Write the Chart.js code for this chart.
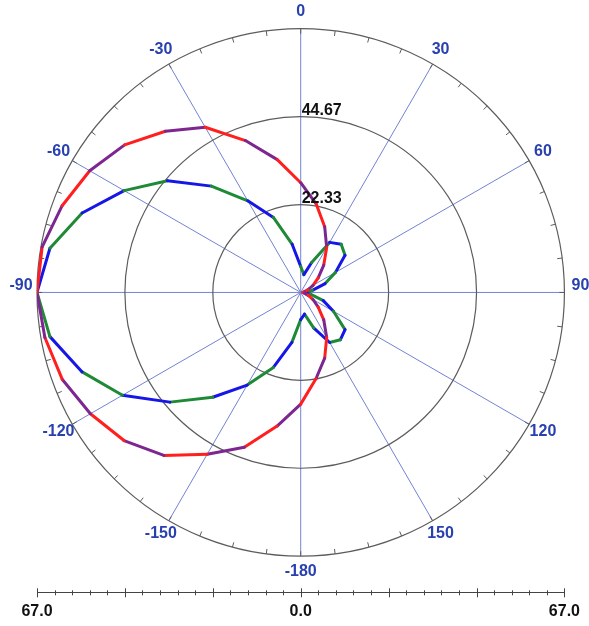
<!DOCTYPE html>
<html>
<head>
<meta charset="utf-8">
<script src="https://cdn.jsdelivr.net/npm/chart.js@4.4.0/dist/chart.umd.min.js"></script>
<style>
  html, body { margin: 0; padding: 0; background: #fff; }
  canvas { display: block; }
</style>
</head>
<body>
<canvas id="pattern" width="589" height="626"></canvas>
<script>
// Pattern sampled every 10 degrees, 0 at top, clockwise positive
const angles = [-180, -170, -160, -150, -140, -130, -120, -110, -100, -90,
                -80, -70, -60, -50, -40, -30, -20, -10, 0,
                10, 20, 30, 40, 50, 60, 70, 80, 90,
                100, 110, 120, 130, 140, 150, 160, 170, 180];

// outer trace (red / purple)
const outerR = [28.4, 34.5, 41.9, 47.5, 54.1, 58.6, 61.7, 64.5, 66.0, 67.0,
                66.7, 64.5, 61.9, 58.4, 53.5, 48.5, 41.1, 34.3, 27.9,
                22.8, 17.8, 13.2, 9.1, 5.8, 3.6, 2.0, 1.0, 0.5,
                1.0, 2.0, 3.6, 5.8, 9.1, 13.2, 17.8, 22.3, 28.4];

// inner trace (blue / green)
const innerR = [6.9, 12.9, 20.3, 27.2, 34.8, 43.4, 52.3, 59.1, 64.7, 67.0,
                64.7, 59.1, 51.8, 44.2, 35.3, 26.9, 20.3, 12.4, 6.6,
                4.6, 8.1, 14.7, 16.0, 14.7, 10.2, 6.6, 3.0, 0.8,
                2.5, 6.1, 9.6, 14.7, 15.7, 14.7, 9.6, 5.6, 6.9];

// rings and spokes
const ringValues = [22.33, 44.67, 67];
const ringLabels = ["22.33", "44.67", ""];
const spokeAngles = [0, 30, 60, 90, 120, 150, 180, -150, -120, -90, -60, -30];
const spokeLabels = ["0", "30", "60", "90", "120", "150", "-180", "-150", "-120", "-90", "-60", "-30"];

// bottom linear scale
const axisMajors = [-67, -44.67, -22.33, 0, 22.33, 44.67, 67];
const axisLabels = ["67.0", "", "", "0.0", "", "", "67.0"];
const minorPerMajor = 5;

const RMAX = 67;
const RED = "#ff1f1f", PURPLE = "#7d2690", BLUE = "#1616e6", GREEN = "#1f8a35";
const LABEL_BLUE = "#2840b0";
const FONT = "'Liberation Sans', Arial, sans-serif";

function toXY(radii) {
    return angles.map((a, i) => {
        const t = a * Math.PI / 180;
        return { x: radii[i] * Math.sin(t), y: radii[i] * Math.cos(t) };
    });
}

/***********************************************
 * polar grid drawn through the x / y scales
 ***********************************************/
const polarGrid = {
    id: "polarGrid",
    beforeDatasetsDraw(chart) {
        const { ctx, scales: { x, y } } = chart;
        const cx = x.getPixelForValue(0);
        const cy = y.getPixelForValue(0);
        const unit = x.getPixelForValue(1) - cx;
        ctx.save();

        ctx.strokeStyle = "#7283d4";
        ctx.lineWidth = 1;
        spokeAngles.forEach(a => {
            const t = a * Math.PI / 180;
            ctx.beginPath();
            ctx.moveTo(cx, cy);
            ctx.lineTo(x.getPixelForValue(RMAX * Math.sin(t)), y.getPixelForValue(RMAX * Math.cos(t)));
            ctx.stroke();
        });

        ctx.strokeStyle = "#5c5c5c";
        ctx.lineWidth = 1.2;
        ringValues.forEach(r => {
            ctx.beginPath();
            ctx.arc(cx, cy, r * unit, 0, Math.PI * 2);
            ctx.stroke();
        });

        // small inward ticks on the outer ring
        ctx.lineWidth = 1;
        for (let a = 0; a < 360; a += 7.5) {
            const t = a * Math.PI / 180;
            const r0 = RMAX * unit, r1 = r0 - 5;
            ctx.beginPath();
            ctx.moveTo(cx + r0 * Math.sin(t), cy - r0 * Math.cos(t));
            ctx.lineTo(cx + r1 * Math.sin(t), cy - r1 * Math.cos(t));
            ctx.stroke();
        }
        ctx.restore();
    },
    afterDatasetsDraw(chart) {
        const { ctx, scales: { x, y } } = chart;
        const cx = x.getPixelForValue(0);
        const cy = y.getPixelForValue(0);
        const unit = x.getPixelForValue(1) - cx;
        ctx.save();

        // ring values, just right of the 0 spoke
        ctx.font = "bold 16px " + FONT;
        ctx.fillStyle = "#111";
        ctx.textAlign = "left";
        ctx.textBaseline = "alphabetic";
        ringValues.forEach((r, i) => {
            if (ringLabels[i]) ctx.fillText(ringLabels[i], cx + 1, cy - r * unit - 2);
        });

        // angle labels outside the outer ring (the side ones sit just above their spoke)
        ctx.fillStyle = LABEL_BLUE;
        ctx.textAlign = "center";
        ctx.textBaseline = "middle";
        const lr = RMAX * unit + 16;
        spokeAngles.forEach((a, i) => {
            const t = a * Math.PI / 180;
            const lift = Math.abs(Math.sin(t)) > 0.99 ? 7 : 1;
            ctx.fillText(spokeLabels[i], cx + lr * Math.sin(t), cy - lr * Math.cos(t) - lift);
        });
        ctx.restore();
    },
    afterDraw(chart) {
        // tick marks of the bottom scale
        const { ctx, scales: { x } } = chart;
        const y0 = x.top;
        ctx.save();
        ctx.strokeStyle = "#444";
        ctx.lineWidth = 1;
        x.ticks.forEach((tk, i) => {
            const px = Math.round(x.getPixelForValue(tk.value)) + 0.5;
            const h = i % minorPerMajor === 0 ? 4.5 : 2.5;
            ctx.beginPath();
            ctx.moveTo(px, y0 - h);
            ctx.lineTo(px, y0 + h);
            ctx.stroke();
        });
        ctx.restore();
    }
};

new Chart(document.getElementById("pattern"), {
    type: "scatter",
    data: {
        datasets: [
            {
                data: toXY(outerR),
                showLine: true,
                borderWidth: 3,
                borderColor: RED,
                pointRadius: 0,
                borderCapStyle: "round",
                borderJoinStyle: "round",
                segment: { borderColor: c => c.p0DataIndex % 2 ? RED : PURPLE }
            },
            {
                data: toXY(innerR),
                showLine: true,
                borderWidth: 3,
                borderColor: BLUE,
                pointRadius: 0,
                borderCapStyle: "round",
                borderJoinStyle: "round",
                segment: { borderColor: c => c.p0DataIndex % 2 ? BLUE : GREEN }
            }
        ]
    },
    options: {
        responsive: false,
        animation: false,
        devicePixelRatio: 1,
        layout: { padding: { left: 37, right: 24, top: 29, bottom: -4 } },
        plugins: { legend: { display: false }, tooltip: { enabled: false } },
        scales: {
            x: {
                type: "linear",
                position: "bottom",
                min: -RMAX,
                max: RMAX,
                afterBuildTicks: scale => {
                    const ticks = [];
                    for (let m = 0; m < axisMajors.length - 1; m++) {
                        const step = (axisMajors[m + 1] - axisMajors[m]) / minorPerMajor;
                        for (let k = 0; k < minorPerMajor; k++) ticks.push({ value: axisMajors[m] + k * step });
                    }
                    ticks.push({ value: axisMajors[axisMajors.length - 1] });
                    scale.ticks = ticks;
                },
                grid: { display: false, drawTicks: false },
                border: { display: true, color: "#444", width: 1 },
                ticks: {
                    autoSkip: false,
                    maxRotation: 0,
                    padding: 9,
                    color: "#111",
                    font: { family: FONT, size: 16, weight: "bold", lineHeight: 1.2 },
                    callback: (v, i) => i % minorPerMajor === 0 ? axisLabels[i / minorPerMajor] : ""
                }
            },
            y: { display: false, min: -76.39, max: RMAX }
        }
    },
    plugins: [polarGrid]
});
</script>
</body>
</html>
